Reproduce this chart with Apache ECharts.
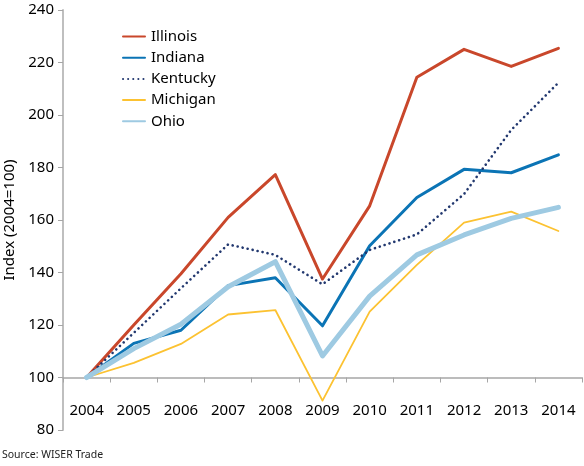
<!DOCTYPE html>
<html>
<head>
<meta charset="utf-8">
<script src="https://cdn.jsdelivr.net/npm/echarts@6/dist/echarts.min.js"></script>
<style>
html,body{margin:0;padding:0;background:#fff;}
#chart{width:584px;height:466px;}
</style>
</head>
<body>
<div id="chart"></div>
<script>
const years = ['2004','2005','2006','2007','2008','2009','2010','2011','2012','2013','2014'];
const illinois = [100, 120, 139.5, 161, 177.3, 137.5, 165.4, 214.4, 225, 218.5, 225.4];
const indiana  = [100, 113, 118, 135, 138, 119.7, 150.2, 168.6, 179.3, 178, 184.8];
const kentucky = [100, 117, 134, 150.7, 146.7, 135.5, 148.6, 154.5, 169.9, 194.3, 212.3];
const michigan = [100, 105.6, 112.8, 124, 125.7, 91.2, 125.1, 142.9, 159, 163.2, 155.8];
const ohio     = [100, 111, 120.3, 134.6, 144.1, 108.2, 131, 146.7, 154.3, 160.6, 164.8];
const yTicks = {min: 80, max: 240, interval: 20};

const FONT = 'Noto Sans';
const chart = echarts.init(document.getElementById('chart'), null, {renderer: 'canvas'});

function line(name, data, color, width, type) {
  return {
    name: name, type: 'line', data: data, symbol: 'none', showSymbol: false,
    lineStyle: {color: color, width: width, type: type || 'solid', cap: 'round', join: 'round'},
    itemStyle: {color: color},
    emphasis: {disabled: true},
    animation: false
  };
}

chart.setOption({
  animation: false,
  grid: {left: 63, top: 10, right: 2, bottom: 36, containLabel: false, outerBoundsMode: 'none'},
  legend: {
    orient: 'vertical', left: 117, top: 24,
    itemWidth: 22, itemHeight: 14, itemGap: 6.2,
    itemStyle: {opacity: 0},
    textStyle: {fontFamily: FONT, fontSize: 15, color: '#000', padding: [0,0,0,1]},
    data: ['Illinois','Indiana','Kentucky','Michigan','Ohio']
  },
  xAxis: {
    type: 'category', data: years, boundaryGap: true,
    offset: -52.5,
    axisLine: {show: true, lineStyle: {color: '#a6a6a6', width: 1.5}},
    axisTick: {show: true, length: 5, lineStyle: {color: '#a6a6a6', width: 1}},
    axisLabel: {margin: 26, fontFamily: FONT, fontSize: 15, color: '#000', interval: 0},
    splitLine: {show: false}
  },
  yAxis: {
    type: 'value', min: yTicks.min, max: yTicks.max, interval: yTicks.interval,
    name: 'Index (2004=100)', nameLocation: 'middle', nameGap: 43, nameRotate: 90,
    nameTextStyle: {fontFamily: FONT, fontSize: 15, color: '#000'},
    axisLine: {show: true, lineStyle: {color: '#bfbfbf', width: 2}},
    axisTick: {show: true, length: 5, lineStyle: {color: '#a6a6a6'}},
    axisLabel: {margin: 9, fontFamily: FONT, fontSize: 15, color: '#000'},
    splitLine: {show: false}
  },
  graphic: [{
    type: 'text', left: 2, top: 450,
    style: {text: 'Source: WISER Trade', fontFamily: FONT, fontSize: 10.5, fill: '#222'}
  }],
  series: [
    line('Illinois', illinois, '#c9472b', 3),
    line('Indiana', indiana, '#0b74b5', 3),
    line('Kentucky', kentucky, '#22386f', 2.6, [0.1, 5]),
    line('Michigan', michigan, '#fcc231', 1.8),
    line('Ohio', ohio, '#9ecae2', 5)
  ]
});
</script>
</body>
</html>
